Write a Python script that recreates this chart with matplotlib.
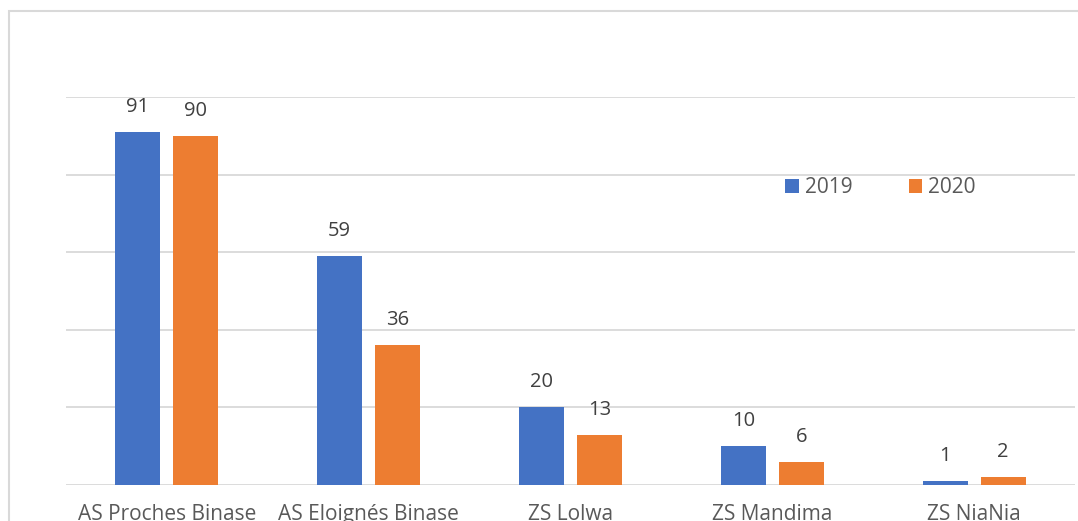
import matplotlib.pyplot as plt
import numpy as np
from matplotlib.patches import Rectangle

categories = ['AS Proches Binase', 'AS Eloignés Binase', 'ZS Lolwa', 'ZS Mandima', 'ZS NiaNia']
values_2019 = [91, 59, 20, 10, 1]
values_2020 = [90, 36, 13, 6, 2]

plt.rcParams['font.family'] = ['Open Sans', 'DejaVu Sans']

fig = plt.figure(figsize=(10.78, 5.21), dpi=100)
ax = fig.add_axes([66 / 1078, 1 - 485 / 521, 1009 / 1078, 388 / 521])

# light border around the chart area (cropped on the right and bottom)
fig.patches.append(Rectangle((9 / 1078, -0.2), 1.2, 1.2 - 11 / 521, transform=fig.transFigure,
                             fill=False, edgecolor='#d9d9d9', linewidth=1.5))

x = np.arange(len(categories))
w = 0.223
off = 0.144
b1 = ax.bar(x - off, values_2019, w, color='#4472C4', label='2019')
b2 = ax.bar(x + off, values_2020, w, color='#ED7D31', label='2020')

for bars in (b1, b2):
    for rect in bars:
        h = rect.get_height()
        ax.annotate(str(int(h)), (rect.get_x() + rect.get_width() / 2, h),
                    xytext=(0, 18), textcoords='offset points',
                    ha='center', va='center', fontsize=14.5, color='#404040')

ax.set_xlim(-0.5, len(categories) - 0.5)
ax.set_ylim(0, 100)
ax.set_yticks(range(0, 101, 20))
ax.yaxis.grid(True, color='#d9d9d9', linewidth=1.3)
ax.set_axisbelow(True)
ax.tick_params(axis='y', length=0, labelleft=False)
ax.set_xticks(x)
ax.set_xticklabels(categories, fontsize=15, color='#595959')
ax.tick_params(axis='x', length=0, pad=14)
for s in ax.spines.values():
    s.set_visible(False)

ax.legend(loc='center left', bbox_to_anchor=(0.694, 0.766), ncol=2, frameon=False,
          fontsize=15, handlelength=0.65, handleheight=0.65, handletextpad=0.3,
          columnspacing=2.7, labelcolor='#595959')

fig.savefig('out.png', dpi=100)
